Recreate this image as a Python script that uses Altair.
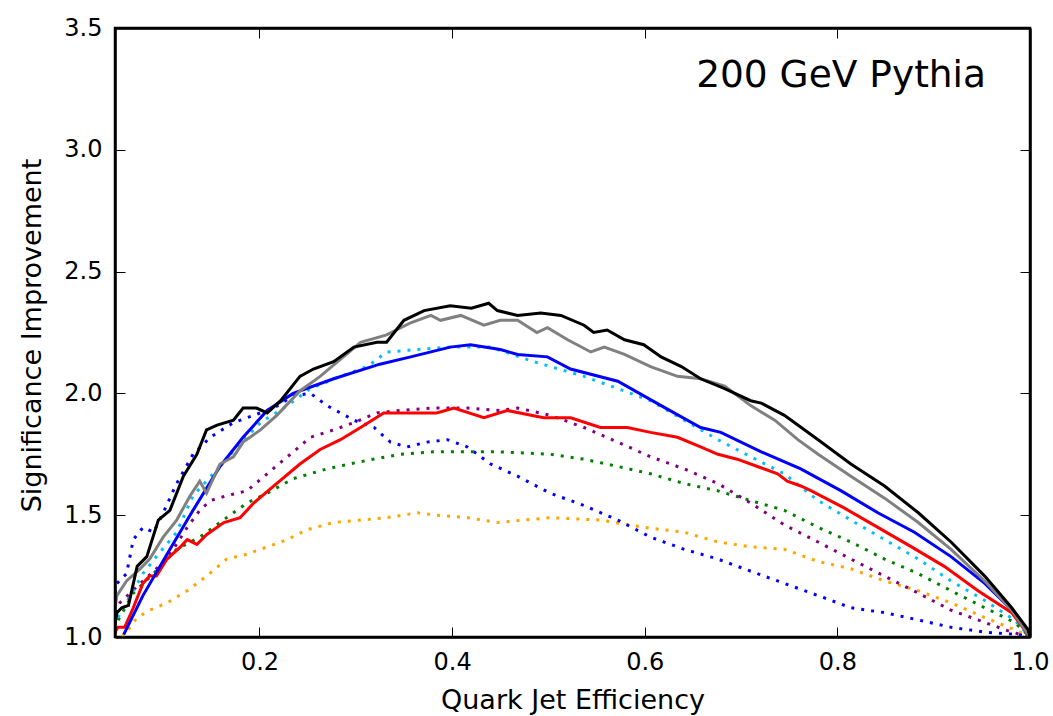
import altair as alt
import pandas as pd

# ---------------- data ----------------
black_x = [0.050, 0.052, 0.057, 0.064, 0.073, 0.083, 0.095, 0.107, 0.121, 0.135,
           0.145, 0.156, 0.173, 0.183, 0.197, 0.208, 0.222, 0.242, 0.256, 0.277,
           0.298, 0.322, 0.332, 0.350, 0.371, 0.398, 0.420, 0.438, 0.447, 0.468,
           0.492, 0.513, 0.537, 0.547, 0.561, 0.579, 0.599, 0.617, 0.638, 0.658,
           0.683, 0.710, 0.721, 0.745, 0.780, 0.814, 0.849, 0.884, 0.918, 0.953,
           0.981, 0.998, 1.000]
black_y = [1.05, 1.10, 1.12, 1.13, 1.29, 1.33, 1.48, 1.52, 1.66, 1.75,
           1.85, 1.87, 1.89, 1.94, 1.94, 1.92, 1.97, 2.07, 2.10, 2.13,
           2.19, 2.21, 2.21, 2.30, 2.34, 2.36, 2.35, 2.37, 2.34, 2.32,
           2.33, 2.32, 2.28, 2.25, 2.26, 2.22, 2.20, 2.15, 2.11, 2.06,
           2.02, 1.97, 1.96, 1.91, 1.81, 1.71, 1.62, 1.51, 1.39, 1.25,
           1.12, 1.03, 1.00]

gray_x = [0.050, 0.052, 0.062, 0.076, 0.086, 0.100, 0.114, 0.128, 0.138, 0.145,
          0.159, 0.173, 0.183, 0.201, 0.218, 0.242, 0.263, 0.284, 0.305, 0.332,
          0.357, 0.378, 0.388, 0.409, 0.433, 0.450, 0.468, 0.488, 0.499, 0.520,
          0.544, 0.558, 0.579, 0.606, 0.634, 0.658, 0.683, 0.710, 0.735, 0.759,
          0.780, 0.814, 0.849, 0.884, 0.918, 0.953, 0.981, 1.000]
gray_y = [1.12, 1.17, 1.23, 1.28, 1.32, 1.41, 1.48, 1.58, 1.64, 1.59,
          1.71, 1.74, 1.80, 1.85, 1.91, 2.01, 2.07, 2.14, 2.21, 2.24,
          2.29, 2.32, 2.30, 2.32, 2.28, 2.30, 2.30, 2.25, 2.27, 2.22,
          2.17, 2.19, 2.16, 2.11, 2.07, 2.06, 2.03, 1.95, 1.89, 1.81,
          1.75, 1.66, 1.57, 1.47, 1.36, 1.23, 1.11, 1.00]

blue_x = [0.059, 0.079, 0.104, 0.131, 0.159, 0.183, 0.208, 0.235, 0.277, 0.325,
          0.357, 0.398, 0.419, 0.450, 0.468, 0.499, 0.523, 0.572, 0.617, 0.658,
          0.679, 0.721, 0.762, 0.804, 0.842, 0.880, 0.918, 0.953, 0.984, 1.000]
blue_y = [1.01, 1.17, 1.34, 1.52, 1.70, 1.82, 1.93, 2.00, 2.06, 2.12,
          2.15, 2.19, 2.20, 2.18, 2.16, 2.15, 2.10, 2.05, 1.95, 1.86,
          1.84, 1.76, 1.69, 1.60, 1.51, 1.43, 1.33, 1.22, 1.10, 1.00]

red_x = [0.050, 0.053, 0.060, 0.069, 0.079, 0.086, 0.093, 0.104, 0.118, 0.125,
         0.135, 0.145, 0.163, 0.180, 0.194, 0.215, 0.242, 0.263, 0.284, 0.305,
         0.329, 0.364, 0.384, 0.402, 0.433, 0.457, 0.495, 0.523, 0.554, 0.582,
         0.606, 0.634, 0.658, 0.676, 0.696, 0.717, 0.738, 0.748, 0.762, 0.773,
         0.807, 0.842, 0.877, 0.911, 0.946, 0.981, 1.000]
red_y = [1.02, 1.04, 1.04, 1.12, 1.22, 1.25, 1.25, 1.32, 1.37, 1.40,
         1.38, 1.42, 1.47, 1.49, 1.55, 1.62, 1.71, 1.77, 1.81, 1.86,
         1.92, 1.92, 1.92, 1.94, 1.90, 1.93, 1.90, 1.90, 1.86, 1.86,
         1.84, 1.82, 1.78, 1.75, 1.73, 1.70, 1.67, 1.64, 1.62, 1.60,
         1.53, 1.45, 1.37, 1.29, 1.19, 1.10, 1.00]

skyblue_x = [0.053, 0.066, 0.079, 0.095, 0.114, 0.131, 0.152, 0.177, 0.201, 0.229,
             0.253, 0.284, 0.312, 0.332, 0.364, 0.398, 0.440, 0.485, 0.537, 0.572,
             0.606, 0.641, 0.676, 0.710, 0.745, 0.780, 0.814, 0.849, 0.884, 0.918,
             0.953, 0.984, 1.000]
skyblue_y = [1.08, 1.17, 1.26, 1.34, 1.43, 1.58, 1.67, 1.78, 1.88, 1.95,
             2.02, 2.07, 2.11, 2.17, 2.18, 2.19, 2.19, 2.13, 2.07, 2.02,
             1.97, 1.89, 1.81, 1.74, 1.67, 1.56, 1.48, 1.40, 1.32, 1.23,
             1.15, 1.07, 1.00]

purple_x = [0.050, 0.055, 0.079, 0.104, 0.125, 0.138, 0.149, 0.166, 0.187, 0.208,
            0.232, 0.253, 0.277, 0.298, 0.322, 0.346, 0.381, 0.416, 0.450, 0.468,
            0.502, 0.537, 0.572, 0.606, 0.641, 0.676, 0.710, 0.745, 0.780, 0.814,
            0.849, 0.884, 0.918, 0.953, 0.981, 1.000]
purple_y = [1.10, 1.14, 1.23, 1.32, 1.45, 1.52, 1.56, 1.58, 1.60, 1.67,
            1.75, 1.82, 1.85, 1.88, 1.92, 1.93, 1.94, 1.94, 1.93, 1.94,
            1.91, 1.86, 1.80, 1.74, 1.69, 1.63, 1.55, 1.46, 1.39, 1.32,
            1.25, 1.18, 1.11, 1.06, 1.02, 1.00]

green_x = [0.050, 0.052, 0.069, 0.090, 0.114, 0.138, 0.166, 0.187, 0.208, 0.235,
           0.270, 0.305, 0.346, 0.381, 0.416, 0.450, 0.502, 0.537, 0.572, 0.606,
           0.641, 0.676, 0.710, 0.745, 0.780, 0.814, 0.849, 0.884, 0.918, 0.953,
           0.984, 1.000]
green_y = [1.03, 1.06, 1.18, 1.26, 1.36, 1.41, 1.49, 1.55, 1.59, 1.65,
           1.69, 1.72, 1.75, 1.76, 1.76, 1.76, 1.75, 1.73, 1.70, 1.67,
           1.63, 1.60, 1.56, 1.52, 1.45, 1.39, 1.32, 1.26, 1.19, 1.12,
           1.06, 1.00]

bluedot_x = [0.050, 0.052, 0.062, 0.069, 0.079, 0.090, 0.100, 0.114, 0.131, 0.149,
             0.173, 0.194, 0.215, 0.235, 0.253, 0.270, 0.298, 0.319, 0.336, 0.353,
             0.374, 0.395, 0.416, 0.440, 0.468, 0.502, 0.537, 0.572, 0.606, 0.641,
             0.676, 0.710, 0.745, 0.780, 0.814, 0.849, 0.884, 0.918, 0.953, 0.988,
             1.000]
bluedot_y = [1.18, 1.22, 1.26, 1.40, 1.45, 1.43, 1.51, 1.63, 1.75, 1.82,
             1.88, 1.91, 1.94, 1.99, 2.00, 1.95, 1.89, 1.86, 1.80, 1.78,
             1.80, 1.81, 1.78, 1.71, 1.66, 1.59, 1.54, 1.48, 1.41, 1.36,
             1.32, 1.27, 1.22, 1.17, 1.12, 1.10, 1.07, 1.04, 1.02, 1.01,
             1.00]

orange_x = [0.057, 0.062, 0.073, 0.086, 0.104, 0.125, 0.145, 0.166, 0.187, 0.208,
            0.229, 0.249, 0.277, 0.305, 0.332, 0.364, 0.384, 0.416, 0.447, 0.502,
            0.554, 0.599, 0.641, 0.676, 0.710, 0.745, 0.780, 0.814, 0.849, 0.884,
            0.918, 0.953, 0.984, 1.000]
orange_y = [1.00, 1.02, 1.08, 1.11, 1.14, 1.19, 1.25, 1.32, 1.34, 1.37,
            1.40, 1.44, 1.47, 1.48, 1.49, 1.51, 1.50, 1.49, 1.47, 1.49,
            1.48, 1.45, 1.43, 1.39, 1.37, 1.36, 1.31, 1.28, 1.23, 1.19,
            1.14, 1.08, 1.03, 1.00]

x_ticks = [0.2, 0.4, 0.6, 0.8, 1.0]
y_ticks = [1.0, 1.5, 2.0, 2.5, 3.0, 3.5]

# draw order: dotted first, then solids (black on top)
dotted_series = [("orange", orange_x, orange_y, "#ffa500"),
                 ("bluedot", bluedot_x, bluedot_y, "#0000ff"),
                 ("green", green_x, green_y, "#007f00"),
                 ("purple", purple_x, purple_y, "#800080"),
                 ("skyblue", skyblue_x, skyblue_y, "#00bfff")]
solid_series = [("red", red_x, red_y, "#ff0000"),
                ("blue", blue_x, blue_y, "#0000ff"),
                ("gray", gray_x, gray_y, "#808080"),
                ("black", black_x, black_y, "#000000")]


def build(series):
    frames = []
    for i, (name, xs, ys, _) in enumerate(series):
        frames.append(pd.DataFrame({"series": name, "order": i, "x": xs, "y": ys}))
    return pd.concat(frames, ignore_index=True)


dotted_df = build(dotted_series)
solid_df = build(solid_series)

names = [s[0] for s in dotted_series + solid_series]
colors = [s[3] for s in dotted_series + solid_series]
color_scale = alt.Scale(domain=names, range=colors)

x_scale = alt.Scale(domain=[0.05, 1.0], nice=False, zero=False)
y_scale = alt.Scale(domain=[1.0, 3.5], nice=False, zero=False)

FONT = "DejaVu Sans"
TICK = alt.ExprRef(expr="-10")

common_axis = dict(grid=False, domain=True, domainColor="black", domainWidth=2.5,
                   tickColor="black", tickWidth=1, tickSize=TICK, zindex=1,
                   labelFont=FONT, labelFontSize=24, labelColor="black",
                   titleFont=FONT, titleFontSize=27, titleFontWeight="normal",
                   titleColor="black", labelOverlap=False, labelFlush=False,
                   labelBound=False)

x_bottom = alt.Axis(orient="bottom", values=x_ticks, format=".1f",
                    title="Quark Jet Efficiency", labelBaseline="alphabetic",
                    labelPadding=42, titleX=457.5, titleY=71,
                    titleAlign="center", titleBaseline="alphabetic",
                    **common_axis)
y_left = alt.Axis(orient="left", values=y_ticks, format=".1f",
                  title="Significance Improvement", labelPadding=23,
                  titleX=-75, titleY=307, titleAngle=270,
                  titleAlign="center", titleBaseline="alphabetic",
                  **common_axis)
x_top = alt.Axis(orient="top", values=x_ticks, labels=False, title=None,
                 **common_axis)
y_right = alt.Axis(orient="right", values=y_ticks, labels=False, title=None,
                   **common_axis)

solid = alt.Chart(solid_df).mark_line(strokeWidth=3, clip=True).encode(
    x=alt.X("x:Q", scale=x_scale, axis=x_bottom),
    y=alt.Y("y:Q", scale=y_scale, axis=y_left),
    color=alt.Color("series:N", scale=color_scale, legend=None),
    detail="series:N",
    order="order:Q",
)

dotted = alt.Chart(dotted_df).mark_line(strokeWidth=3, strokeDash=[3, 7],
                                        clip=True).encode(
    x=alt.X("x:Q", scale=x_scale, axis=x_top),
    y=alt.Y("y:Q", scale=y_scale, axis=y_right),
    color=alt.Color("series:N", scale=color_scale, legend=None),
    detail="series:N",
    order="order:Q",
)

label_df = pd.DataFrame({"label": ["200 GeV Pythia"]})
annot = alt.Chart(label_df).mark_text(font=FONT, fontSize=37.5, align="right",
                                      baseline="alphabetic", color="black").encode(
    text="label:N",
    x=alt.value(871),
    y=alt.value(59),
)

chart = alt.layer(dotted, solid, annot).resolve_axis(
    x="independent", y="independent"
).properties(
    width=915,
    height=609,
    autosize=alt.AutoSizeParams(type="none"),
    padding={"left": 115, "top": 28, "right": 23, "bottom": 79},
).configure(font=FONT).configure_view(stroke="black", strokeWidth=2.5)

chart.save("out.html", embed_options={"renderer": "svg", "actions": False})
